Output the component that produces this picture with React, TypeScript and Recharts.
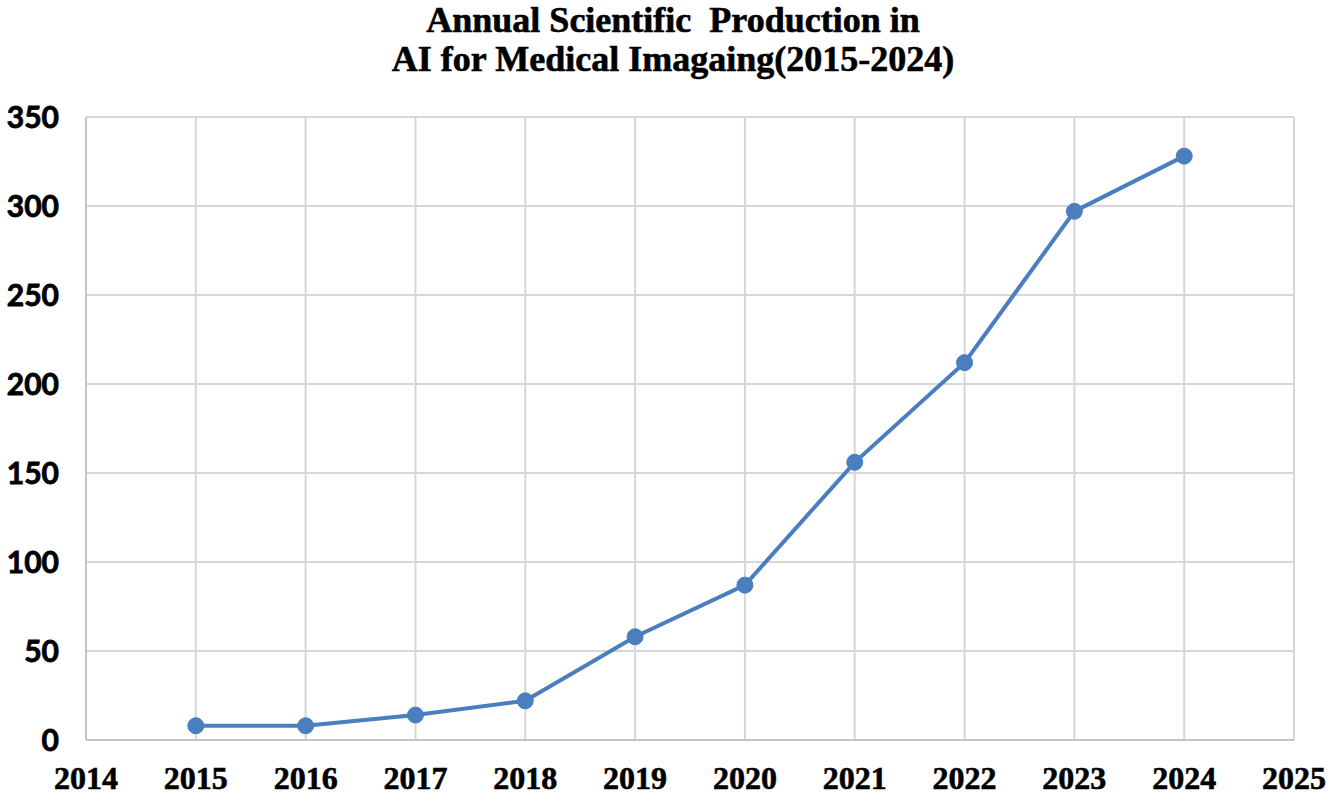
import { CartesianGrid, Line, LineChart, XAxis, YAxis } from 'recharts';

const YEARS = [2015, 2016, 2017, 2018, 2019, 2020, 2021, 2022, 2023, 2024];
const ARTICLES = [8, 8, 14, 22, 58, 87, 156, 212, 297, 328];
const X_TICKS = [2014, 2015, 2016, 2017, 2018, 2019, 2020, 2021, 2022, 2023, 2024, 2025];
const Y_TICKS = [0, 50, 100, 150, 200, 250, 300, 350];
const TITLE_LINES = ['Annual Scientific  Production in', 'AI for Medical Imagaing(2015-2024)'];

const rows = YEARS.map((year, i) => ({ year, articles: ARTICLES[i] }));

const LINE_BLUE = '#4a7ebf';
const GRID = '#d6d6d6';
const SERIF = '"Liberation Serif", "Times New Roman", serif';

export default function App() {
  return (
    <div style={{ position: 'absolute', left: 0, top: 0, width: 1333, height: 804, background: '#fff' }}>
      <div
        style={{
          position: 'absolute',
          left: 0,
          top: 1,
          width: 1333,
          textAlign: 'center',
          fontFamily: SERIF,
          fontWeight: 'bold',
          fontSize: 36,
          lineHeight: '39px',
          color: '#000',
          paddingLeft: 13,
          boxSizing: 'border-box',
          WebkitTextStroke: '0.6px #000',
        }}
      >
        {TITLE_LINES.map((t) => (
          <div key={t} style={{ whiteSpace: 'pre' }}>{t}</div>
        ))}
      </div>
      <LineChart width={1333} height={804} data={rows} margin={{ top: 117, right: 39, left: 6, bottom: 34 }}>
        <CartesianGrid stroke={GRID} strokeWidth={2} />
        <XAxis
          dataKey="year"
          type="number"
          domain={[2014, 2025]}
          ticks={X_TICKS}
          interval={0}
          height={30}
          axisLine={{ stroke: '#c4c4c4', strokeWidth: 2 }}
          tickLine={false}
          tickMargin={20}
          tick={{ fill: '#000', stroke: '#000', strokeWidth: 0.6, fontSize: 32, fontWeight: 'bold', fontFamily: SERIF }}
        />
        <YAxis
          type="number"
          domain={[0, 350]}
          ticks={Y_TICKS}
          interval={0}
          width={80}
          axisLine={{ stroke: '#c4c4c4', strokeWidth: 2 }}
          tickLine={false}
          tickMargin={21}
          tick={{ fill: '#000', stroke: '#000', strokeWidth: 0.8, fontSize: 30, fontWeight: 'bold', fontFamily: 'Lato, "Liberation Sans", sans-serif' }}
        />
        <Line
          type="linear"
          dataKey="articles"
          stroke={LINE_BLUE}
          strokeWidth={4}
          dot={{ r: 8, fill: LINE_BLUE, stroke: LINE_BLUE, strokeWidth: 1 }}
          activeDot={false}
          isAnimationActive={false}
        />
      </LineChart>
    </div>
  );
}
